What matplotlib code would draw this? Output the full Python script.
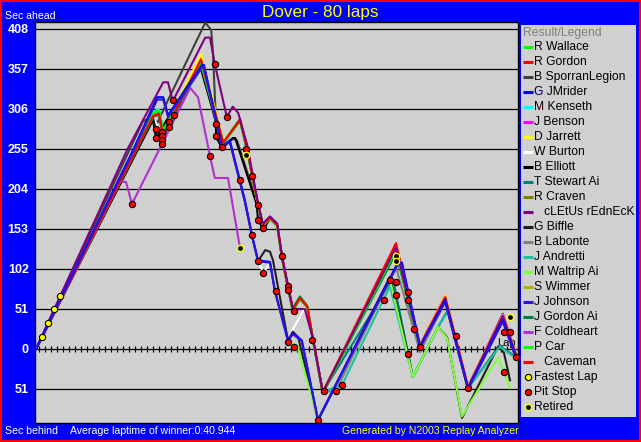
import matplotlib
matplotlib.use('Agg')
import matplotlib.pyplot as plt
from matplotlib.patches import Rectangle

# ----------------------------------------------------------------------------------------------------------------------
#  DATA  (lap, seconds ahead(+) / behind(-) of average winner)
# ----------------------------------------------------------------------------------------------------------------------

upper_laps = [0, 19.5, 20.5, 21.2, 27.5, 31.2, 34, 35.2, 37, 37.8, 39, 40.2, 41, 42, 42.8, 44, 45.2, 46.2, 47.8,
              60, 64, 68.2, 72, 77.8, 80]
lower_laps = [0, 16.2, 20.2, 21.2, 22, 27.7, 28, 31, 32.3, 34.8, 36, 37, 39, 39.8, 42, 42.8, 44.3, 47,
              60.3, 61, 64, 68.2, 72, 77.8, 80]

wallace_sec  = [0, 300, 305, 278, 366, 262, 291, 253, 183, 157, 166, 157, 116, 78, 49, 64, 53, 10, -56, 128, 2, 63, -51, 39, -10]
rgordon_sec  = [0, 298, 301, 275, 372, 264, 292, 254, 184, 158, 167, 158, 117, 79, 50, 65, 54, 11, -55, 135, 5, 68, -48, 44, -7]
kenseth_sec  = [0, 302, 306, 280, 368, 262, 291, 253, 183, 157, 166, 157, 116, 78, 49, 64, 53, 10, -56, 127, 2, 63, -51, 38, -11]
benson_sec   = [0, 297, 300, 272, 371, 263, 292, 254, 184, 158, 167, 158, 117, 79, 50, 65, 54, 11, -55, 126, 3, 64, -50, 44, -9]
jarrett_sec  = [0, 299, 302, 276, 376, 265, 293, 255, 185, 159, 168, 159, 118, 80, 51, 66, 55, 12, -54, 130, 4, 68, -49, 43, -8]
craven_sec   = [0, 296, 299, 270, 367, 262, 291, 253, 183, 157, 166, 157, 116, 78, 49, 64, 53, 10, -56, 124, 2, 63, -51, 40, -10]
wimmer_sec   = [0, 297, 300, 271, 369, 263, 291, 253, 183, 157, 166, 157, 116, 78, 49, 64, 53, 10, -56, 125, 2, 64, -51, 41, -10]
jgordon_sec  = [0, 296, 299, 269, 365, 263, 293, 254, 184, 158, 168, 158, 117, 79, 52, 67, 55, 11, -55, 122, 2, 62, -51, 38, -11]
pcar_sec     = [0, 301, 304, 279, 367, 262, 291, 253, 183, 157, 166, 157, 116, 78, 49, 64, 53, 10, -56, 126, 2, 63, -51, 40, -10]
caveman_sec  = [0, 297, 300, 273, 369, 263, 292, 254, 184, 158, 167, 158, 117, 79, 50, 65, 54, 11, -55, 132, 4, 66, -49, 42, -8]

jmrider_sec  = [0, 254, 321, 321, 298, 362, 362, 258, 266, 190, 145, 113, 111, 75, 11, 20, 11, -90, 110, 110, 3, 62, -50, 37, -10]
johnson_sec  = [0, 252, 318, 318, 296, 360, 360, 257, 264, 188, 144, 112, 110, 74, 10, 19, 10, -91, 108, 108, 2, 60, -51, 35, -11]

sporran_laps = [0, 17.8, 19.3, 20.2, 21.8, 28.2, 29.2, 29.5, 30, 31, 32.8, 33.5, 37, 37.8, 39, 40.2, 41, 42, 42.8,
                44, 45.2, 46.2, 47.8, 60, 64, 68.2, 72, 77.8, 80]
sporran_sec  = [0, 290, 296, 288, 314, 416, 407, 377, 288, 256, 268, 266, 183, 157, 166, 157, 116, 78, 49,
                64, 53, 10, -56, 130, 3, 64, -50, 45, -8]

burton_laps = [0, 19.5, 21, 27.5, 31, 32.3, 34.8, 36, 37, 37.9, 39, 39.8, 42, 42.8, 45, 46.2, 47.8, 60, 64, 68.2, 72, 77.8, 80]
burton_sec  = [0, 297, 272, 366, 257, 265, 190, 145, 113, 97, 110, 75, 11, 25, 55, 11, -55, 125, 2, 64, -50, 40, -10]

elliott_laps = [0, 19.5, 20, 27.3, 30, 30, 31, 32.8, 33.2, 36.8, 37, 37.9, 39, 40.2, 41, 42, 42.8, 44, 45.2, 46.2,
                47.8, 60, 64, 68.2, 72, 77.8, 80]
elliott_sec  = [0, 292, 269, 362, 290, 271, 256, 269, 269, 184, 164, 153, 166, 157, 117, 79, 50, 64, 53, 10,
                -56, 128, 2, 64, -50, 38, -10]

stewart_laps = [0, 19.5, 20.5, 21.2, 27.5, 31.2, 34, 35.2, 37, 37.8, 39, 40.2, 41, 42, 42.8, 44, 45.2, 46.2, 47.8,
                59, 59.6, 62.8, 67, 68.7, 72, 77.3, 78, 80]
stewart_sec  = [0, 298, 301, 273, 364, 263, 293, 254, 184, 158, 168, 158, 117, 79, 51, 66, 54, 11, -55,
                84, 86, -36, 28, 50, -50, 5, 0, -10]

cletus_laps = [0, 15.2, 21.2, 22, 22.8, 28.2, 29, 29.8, 31.8, 32.8, 33.7, 35.2, 37, 37.8, 39, 40.2, 41, 42, 42.8,
               44.8, 46.2, 47.8, 60, 64, 68.2, 72, 77.8, 80]
cletus_sec  = [0, 254, 340, 340, 316, 397, 397, 363, 296, 309, 301, 260, 186, 160, 169, 160, 119, 81, 51,
               51, 12, -55, 129, 3, 64, -50, 42, -9]

biffle_laps = [0, 19.5, 20.2, 27.7, 31, 32.3, 34.8, 36, 37, 38.2, 39, 39.5, 42, 42.8, 43.7, 47, 59, 62, 62.8, 67,
               68.5, 71, 77, 78, 79]
biffle_sec  = [0, 295, 271, 360, 257, 265, 189, 144, 112, 126, 124, 113, 11, 22, 15, -91, 92, -6, -36, 28,
               15, -88, 3, -5, -40]

labonte_laps = [0, 19.5, 20.5, 21.2, 27.5, 31.2, 34, 35.2, 37, 37.8, 39, 40.2, 41, 42, 42.8, 44, 45.2, 46.2, 47.8,
                50, 60, 64, 68.2, 72, 77.8, 80]
labonte_sec  = [0, 297, 300, 272, 367, 262, 291, 253, 183, 157, 166, 157, 116, 78, 49, 64, 53, 10, -55,
                -53, 104, -4, 60, -52, 36, -12]

andretti_laps = [0, 19.5, 20.5, 21.2, 27.5, 31.2, 34, 35.2, 37, 37.8, 39, 40.2, 41, 42, 42.8, 44, 45.2, 46.2, 47.8,
                 50, 51, 59, 62.8, 67, 68.7, 72, 77.3, 78, 80]
andretti_sec  = [0, 296, 299, 270, 362, 262, 292, 253, 183, 157, 167, 157, 116, 78, 50, 65, 53, 10, -56,
                 -48, -46, 80, -36, 28, 48, -50, 3, -1, -12]

waltrip_laps = [0, 16.2, 20.2, 21.2, 22, 27.7, 28, 31, 32.3, 34.8, 36, 37, 39, 39.8, 42, 43.5, 47, 59, 62.8, 67,
                68.5, 71, 77, 78, 79]
waltrip_sec  = [0, 253, 319, 319, 297, 361, 361, 257, 265, 189, 144, 112, 110, 74, 9, 5, -90, 88, -36, 28,
                14, -86, -11, -29, -50]

coldheart_laps = [0, 14, 15, 16, 25.7, 27, 29, 29.8, 32, 34]
coldheart_sec  = [0, 213, 213, 185, 333, 321, 246, 218, 218, 129]

# finishing order (legend order) with colours
drivers = ['R Wallace', 'R Gordon', 'B SporranLegion', 'G JMrider', 'M Kenseth', 'J Benson', 'D Jarrett',
           'W Burton', 'B Elliott', 'T Stewart Ai', 'R Craven', '   cLEtUs rEdnEcK', 'G Biffle', 'B Labonte',
           'J Andretti', 'M Waltrip Ai', 'S Wimmer', 'J Johnson', 'J Gordon Ai', 'F Coldheart', 'P Car',
           '   Caveman']
colors = ['#00ff00', '#ff0000', '#404040', '#0000ff', '#00ffff', '#ff00ff', '#ffff00', '#ffffff', '#000000',
          '#008080', '#808000', '#800080', '#202020', '#808080', '#20c0a0', '#80ff40', '#b0b000', '#3010e0',
          '#008040', '#b030d0', '#00ff00', '#ff0000']
driver_laps = [upper_laps, upper_laps, sporran_laps, lower_laps, upper_laps, upper_laps, upper_laps, burton_laps,
               elliott_laps, stewart_laps, upper_laps, cletus_laps, biffle_laps, labonte_laps, andretti_laps,
               waltrip_laps, upper_laps, lower_laps, upper_laps, coldheart_laps, upper_laps, upper_laps]
driver_sec = [wallace_sec, rgordon_sec, sporran_sec, jmrider_sec, kenseth_sec, benson_sec, jarrett_sec, burton_sec,
              elliott_sec, stewart_sec, craven_sec, cletus_sec, biffle_sec, labonte_sec, andretti_sec,
              waltrip_sec, wimmer_sec, johnson_sec, jgordon_sec, coldheart_sec, pcar_sec, caveman_sec]

# event markers
pit_laps = [16, 20, 20, 21, 21, 21, 21, 22.1, 22.1, 22.9, 23, 29, 29.8, 30, 30, 31, 31.9, 34, 35, 36, 36, 37, 37,
            37, 37.9, 37.9, 40, 41, 42, 42, 42, 43, 43, 46, 47, 48, 50, 51, 58, 59, 60, 60, 62, 62, 62, 63, 64, 70,
            72, 78, 78, 79, 80]
pit_sec  = [185, 281, 269, 277, 272, 266, 261, 290, 283, 317, 298, 246, 363, 287, 271, 257, 296, 215, 255, 221,
            145, 184, 164, 112, 154, 97, 74, 118, 80, 75, 9, 49, 3, 11, -91, -54, -53, -46, 63, 88, 85, 69, 73, 62,
            -6, 25, 3, 16, -50, 22, -29, 21, -10]
fast_laps = [1, 2, 3, 4]
fast_sec  = [15, 33, 51, 68]
retired_laps = [34, 35, 60, 60, 79]
retired_sec  = [129, 247, 119, 112, 41]

grid_values = [408, 357, 306, 255, 204, 153, 102, 51, 0, -51]
grid_labels = ['408', '357', '306', '255', '204', '153', '102', '51', '0', '51']
lap_ticks = [k + 0.5 for k in range(80)]

# ----------------------------------------------------------------------------------------------------------------------
#  FIGURE
# ----------------------------------------------------------------------------------------------------------------------
plt.rcParams['font.family'] = ['Liberation Sans', 'DejaVu Sans']
W, H = 641, 442


def fig_box(x0, y0, x1, y1):
    # pixel box (top-left origin) -> figure fraction rect
    return [x0 / W, 1 - y1 / H, (x1 - x0) / W, (y1 - y0) / H]


fig = plt.figure(figsize=(W / 100, H / 100), dpi=100, facecolor='#0000ff')

ax = fig.add_axes(fig_box(35, 22, 518, 423))
ax.set_facecolor('#d0d0d0')
ax.set_xlim(-1 / 6, 80 + 2 / 6)
ax.set_ylim(-94.4, 416.9)

for v in grid_values:
    ax.axhline(v, color='black', lw=0.9, zorder=1)
ax.plot(lap_ticks, [0] * len(lap_ticks), ls='none', marker='|', ms=4, mew=0.9, color='black', zorder=1)

ax.text(80, 7, 'Lap', ha='right', va='center', fontsize=8, color='black', zorder=2)

# purple and the two blues sit on top of the bundle in the original
on_top = {'   cLEtUs rEdnEcK': 3.2, 'G JMrider': 3.3, 'J Johnson': 3.3}
for name, laps, sec, c in zip(drivers, driver_laps, driver_sec, colors):
    ax.plot(laps, sec, color=c, lw=1.5, zorder=on_top.get(name, 3))

ax.plot(pit_laps, pit_sec, ls='none', marker='o', ms=4.5, mfc='#ff0000', mec='black', mew=0.8, zorder=5)
ax.plot(fast_laps, fast_sec, ls='none', marker='o', ms=4.5, mfc='#ffff00', mec='black', mew=0.8, zorder=5)
ax.plot(retired_laps, retired_sec, ls='none', marker='o', ms=4.5, mfc='black', mec='#ffff00', mew=1.0, zorder=5)

ax.set_xticks([])
ax.set_yticks(grid_values)
ax.set_yticklabels(grid_labels, color='white', fontweight='bold', fontsize=9)
ax.tick_params(axis='y', length=0, pad=4.5)
for s in ax.spines.values():
    s.set_color('black')
    s.set_linewidth(1)

# legend box
lax = fig.add_axes(fig_box(521, 25, 636, 417))
lax.set_facecolor('#d0d0d0')
lax.set_xlim(521, 636)
lax.set_ylim(417, 25)
lax.set_xticks([])
lax.set_yticks([])
for s in lax.spines.values():
    s.set_visible(False)

lax.text(523, 33, 'Result/Legend', color='#808080', fontsize=8.7, va='center')
for i, (name, c) in enumerate(zip(drivers, colors)):
    y = 47.3 + 15 * i
    lax.plot([523, 533], [y, y], color=c, lw=2.2, solid_capstyle='butt')
    lax.text(534, y, name, color='black', fontsize=8.7, va='center')
y0 = 47.3 + 15 * len(drivers)
lax.plot(527.5, y0, marker='o', ms=4.5, mfc='#ffff00', mec='black', mew=0.8)
lax.text(534, y0, 'Fastest Lap', color='black', fontsize=8.7, va='center')
lax.plot(527.5, y0 + 15, marker='o', ms=4.5, mfc='#ff0000', mec='black', mew=0.8)
lax.text(534, y0 + 15, 'Pit Stop', color='black', fontsize=8.7, va='center')
lax.plot(527.5, y0 + 30, marker='o', ms=4.5, mfc='black', mec='#ffff00', mew=1.0)
lax.text(534, y0 + 30, 'Retired', color='black', fontsize=8.7, va='center')

# header / footer texts
fig.text(320 / W, 1 - 13 / H, 'Dover - 80 laps', color='#ffff00', fontsize=12.3, ha='center', va='center')
fig.text(5 / W, 1 - 16 / H, 'Sec ahead', color='white', fontsize=7.6, va='center')
fig.text(5 / W, 1 - 431 / H, 'Sec behind', color='white', fontsize=7.6, va='center')
fig.text(70 / W, 1 - 431 / H, 'Average laptime of winner:0:40.944', color='white', fontsize=7.6, va='center')
fig.text(342 / W, 1 - 431 / H, 'Generated by N2003 Replay Analyzer', color='#ffff00', fontsize=7.6, va='center')

fig.patches.append(Rectangle((0, 0), 1, 1, transform=fig.transFigure, fill=False, edgecolor='#ff0000', lw=3))

fig.savefig('out.png', dpi=100, facecolor=fig.get_facecolor())
